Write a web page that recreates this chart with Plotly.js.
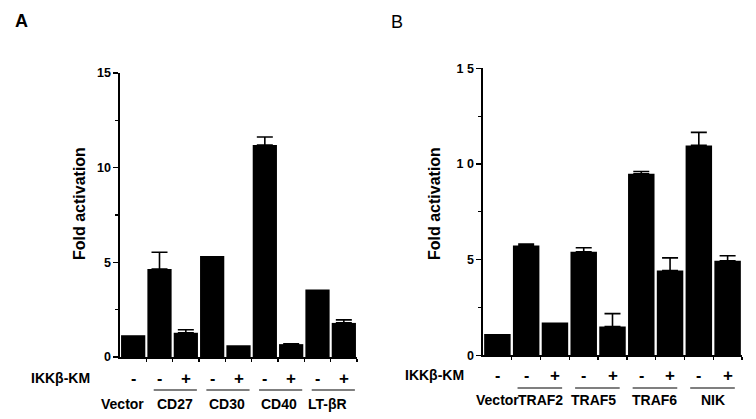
<!DOCTYPE html>
<html>
<head>
<meta charset="utf-8">
<script src="https://cdn.plot.ly/plotly-3.0.1.min.js"></script>
<style>html,body{margin:0;padding:0;background:#fff;}#chart{width:756px;height:419px;}</style>
</head>
<body>
<div id="chart"></div>
<script>
// Panel A data
const signsA = ['-', '-', '+', '-', '+', '-', '+', '-', '+'];
const valuesA = [1.15, 4.65, 1.28, 5.33, 0.62, 11.2, 0.68, 3.57, 1.8];
const errorsA = [null, 0.88, 0.16, null, null, 0.42, 0.02, null, 0.16];
const groupsA = ['Vector', 'CD27', 'CD30', 'CD40', 'LT-βR'];
const groupPosA = [-0.4, 1.57, 3.56, 5.55, 7.37];

// Panel B data
const signsB = ['-', '-', '+', '-', '+', '-', '+', '-', '+'];
const valuesB = [1.11, 5.74, 1.71, 5.41, 1.5, 9.49, 4.43, 10.97, 4.94];
const errorsB = [null, 0.07, null, 0.21, 0.68, 0.12, 0.66, 0.68, 0.26];
const groupsB = ['Vector', 'TRAF2', 'TRAF5', 'TRAF6', 'NIK'];
const groupPosB = [0, 1.5, 3.35, 5.45, 7.5];

const yTickVals = [0, 5, 10, 15];
const yTickTextA = ['0', '5', '10', '15'];
const yTickTextB = ['0', '5', '1 0', '1 5'];

const W = 756, H = 419;
const FAM = 'Liberation Sans, Arial, Helvetica, sans-serif';
const py = v => 1 - v / H;
const idx = valuesA.map((_, i) => i);

function barTrace(vals, errs, xa, ya) {
  return {
    type: 'bar', x: idx, y: vals, xaxis: xa, yaxis: ya,
    marker: {color: '#000', line: {width: 0}},
    error_y: {type: 'data', array: errs.map(e => e === null ? NaN : e),
              arrayminus: errs.map(e => e === null ? NaN : 0), symmetric: false,
              color: '#000', thickness: 1.6, width: 8},
    hoverinfo: 'skip'
  };
}

function xAxis(domain, anchor) {
  return {
    domain: domain, anchor: anchor, range: [-0.5, 8.5], fixedrange: true,
    showline: true, linecolor: '#000', linewidth: 1.6, zeroline: false, showgrid: false,
    tickmode: 'array', tickvals: [0.5, 1.5, 2.5, 3.5, 4.5, 5.5, 6.5, 7.5, 8.5],
    ticks: 'outside', ticklen: 3, tickwidth: 1.3, tickcolor: '#000', showticklabels: false
  };
}

function yAxis(domain, anchor, ticktext) {
  return {
    domain: domain, anchor: anchor, range: [0, 15], fixedrange: true,
    showline: true, linecolor: '#000', linewidth: 1.6, zeroline: false, showgrid: false,
    tickmode: 'array', tickvals: yTickVals, ticktext: ticktext,
    ticks: 'outside', ticklen: 5, tickwidth: 1.3, tickcolor: '#000',
    minor: {dtick: 2.5, ticks: 'outside', ticklen: 3, tickwidth: 1.2, tickcolor: '#000', showgrid: false},
    tickfont: {family: FAM, size: 12.5, color: '#000', weight: 'bold'}
  };
}

const annotations = [];
const shapes = [];
function addLabels(signs, groups, groupPos, xref, signY, lineY, groupY, lineOff) {
  signs.forEach((s, i) => {
    annotations.push({xref: xref, yref: 'paper', x: i, y: py(signY), text: s, showarrow: false,
      xanchor: 'center', yanchor: 'middle', font: {family: FAM, size: s === '+' ? 17 : 16, color: '#000', weight: 'bold'}});
  });
  groups.forEach((g, k) => {
    annotations.push({xref: xref, yref: 'paper', x: groupPos[k], y: py(groupY), text: g, showarrow: false,
      xanchor: 'center', yanchor: 'middle', font: {family: FAM, size: 14, color: '#000', weight: 'bold'}});
    if (k > 0) {
      const first = 2 * k - 1;
      shapes.push({type: 'line', xref: xref, yref: 'paper', x0: first + lineOff[0], x1: first + 1 + lineOff[1],
        y0: py(lineY), y1: py(lineY), line: {color: '#000', width: 1.1}});
    }
  });
}
addLabels(signsA, groupsA, groupPosA, 'x', 378, 390, 404, [-0.22, 0.42]);
addLabels(signsB, groupsB, groupPosB, 'x2', 375, 388, 400, [-0.3, 0.25]);

// Row labels, panel letters, axis titles
annotations.push({xref: 'paper', yref: 'paper', x: 92 / W, y: py(378), text: 'IKKβ-KM', showarrow: false,
  xanchor: 'right', yanchor: 'middle', font: {family: FAM, size: 14, color: '#000', weight: 'bold'}});
annotations.push({xref: 'paper', yref: 'paper', x: 466 / W, y: py(375), text: 'IKKβ-KM', showarrow: false,
  xanchor: 'right', yanchor: 'middle', font: {family: FAM, size: 14, color: '#000', weight: 'bold'}});
annotations.push({xref: 'paper', yref: 'paper', x: 21 / W, y: py(21), text: 'A', showarrow: false,
  xanchor: 'center', yanchor: 'middle', font: {family: FAM, size: 18, color: '#000', weight: 'bold'}});
annotations.push({xref: 'paper', yref: 'paper', x: 397 / W, y: py(22), text: 'B', showarrow: false,
  xanchor: 'center', yanchor: 'middle', font: {family: FAM, size: 18, color: '#000', weight: 'normal'}});
annotations.push({xref: 'paper', yref: 'paper', x: 79 / W, y: py(204), text: 'Fold activation', showarrow: false,
  textangle: -90, xanchor: 'center', yanchor: 'middle', font: {family: FAM, size: 16, color: '#000', weight: 'bold'}});
annotations.push({xref: 'paper', yref: 'paper', x: 435 / W, y: py(203), text: 'Fold activation', showarrow: false,
  textangle: -90, xanchor: 'center', yanchor: 'middle', font: {family: FAM, size: 16, color: '#000', weight: 'bold'}});

const data = [
  barTrace(valuesA, errorsA, 'x', 'y'),
  barTrace(valuesB, errorsB, 'x2', 'y2')
];

const layout = {
  width: W, height: H, margin: {l: 0, r: 0, t: 0, b: 0},
  paper_bgcolor: '#fff', plot_bgcolor: 'rgba(0,0,0,0)',
  showlegend: false, bargap: 0.08,
  font: {family: FAM, color: '#000'},
  xaxis: xAxis([120 / W, 357 / W], 'y'),
  yaxis: yAxis([1 - 357 / H, 1 - 73 / H], 'x', yTickTextA),
  xaxis2: xAxis([483 / W, 742 / W], 'y2'),
  yaxis2: yAxis([1 - 355.3 / H, 1 - 68.3 / H], 'x2', yTickTextB),
  annotations: annotations,
  shapes: shapes
};

Plotly.newPlot('chart', data, layout, {staticPlot: true, displayModeBar: false});
</script>
</body>
</html>
